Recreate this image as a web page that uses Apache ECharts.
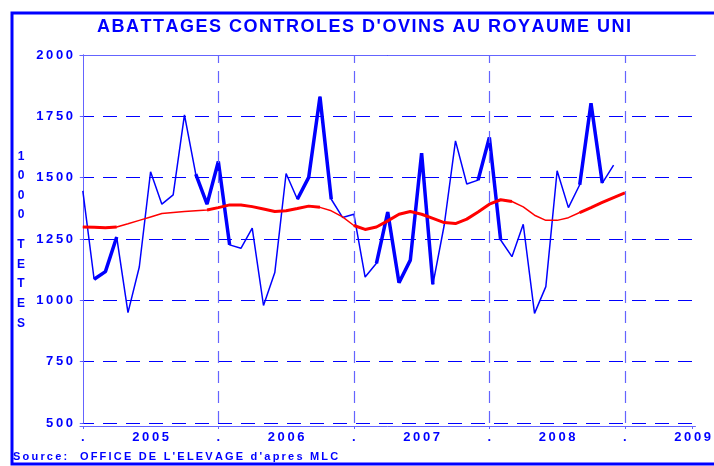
<!DOCTYPE html>
<html>
<head>
<meta charset="utf-8">
<script src="https://cdn.jsdelivr.net/npm/echarts@6/dist/echarts.min.js"></script>
<style>
  html, body { margin: 0; padding: 0; background: #fff; }
  #chart { width: 714px; height: 466px; }
</style>
</head>
<body>
<div id="chart"></div>
<script>
// abattages mensuels (1000 tetes), janv. 2005 -> dec. 2008
var abattages = [1446, 1086, 1117, 1258, 950, 1136, 1524, 1392, 1430, 1756, 1514, 1392,
  1566, 1226, 1212, 1294, 979, 1113, 1517, 1412, 1501, 1830, 1412, 1338,
  1351, 1095, 1151, 1360, 1072, 1164, 1600, 1065, 1306, 1650, 1474, 1490,
  1664, 1246, 1178, 1310, 947, 1056, 1528, 1378, 1471, 1803, 1478, 1551];
// tendance (courbe rouge), janv. 2005 -> janv. 2009
var tendance = [1299, 1298, 1296, 1299, 1312, 1326, 1340, 1354, 1358, 1362, 1365, 1368,
  1378, 1389, 1389, 1382, 1372, 1362, 1365, 1374, 1384, 1379, 1365, 1340,
  1305, 1289, 1299, 1324, 1351, 1362, 1351, 1334, 1317, 1313, 1331, 1360,
  1392, 1410, 1403, 1381, 1347, 1326, 1326, 1337, 1358, 1378, 1399, 1419,
  1438];
// segments traces en trait epais (mois de depart du segment)
var segEpaisAbattages = [1, 2, 10, 11, 12, 19, 20, 21, 26, 27, 28, 29, 30, 35, 36, 44, 45];
var segEpaisTendance = [0, 1, 2, 11, 12, 13, 14, 15, 16, 17, 18, 19, 20,
  24, 25, 26, 27, 28, 29, 30, 31, 32, 33, 34, 35, 36, 37, 44, 45, 46, 47];
// axe des mois
var moisLabels = [0, 6, 12, 18, 24, 30, 36, 42, 48, 54];
var textLabels = ['.', '2005', '.', '2006', '.', '2007', '.', '2008', '.', '2009'];
var moisTicks = [0, 12, 24, 36, 48, 54];
var debutsAnnee = [12, 24, 36, 48];

var BLEU = '#0000ff';
var BLEU_CLAIR = '#6464ff';
var FONT = '"Liberation Sans", Arial, sans-serif';

function espace(s, sep) {
  return String(s).split('').join(sep);
}
function points(vals) {
  return vals.map(function (v, i) { return [i, v]; });
}
// garde seulement les points des segments epais
function epais(vals, segs) {
  return vals.map(function (v, i) {
    var on = segs.indexOf(i) >= 0 || segs.indexOf(i - 1) >= 0;
    return [i, on ? v : '-'];
  });
}

var chart = echarts.init(document.getElementById('chart'));
chart.setOption({
  animation: false,
  backgroundColor: '#fff',
  grid: { left: 80, right: 14, top: 55, bottom: 43 },
  xAxis: [
    {
      type: 'value',
      min: -0.25,
      max: 54.25,
      offset: 3,
      axisLine: { lineStyle: { color: BLEU_CLAIR, width: 1 } },
      axisTick: { customValues: moisTicks, length: 3, lineStyle: { color: BLEU_CLAIR } },
      axisLabel: {
        customValues: moisLabels,
        margin: 5,
        color: BLEU,
        fontWeight: 'bold',
        fontSize: 13,
        fontFamily: FONT,
        formatter: function (v) {
          var k = moisLabels.indexOf(v);
          return k < 0 ? '' : espace(textLabels[k], '\u2009');
        }
      },
      splitLine: { show: false }
    },
    {
      type: 'value',
      position: 'top',
      min: -0.25,
      max: 54.25,
      axisLine: { show: true, lineStyle: { color: BLEU_CLAIR, width: 1 } },
      axisTick: { show: false },
      axisLabel: { show: false },
      splitLine: { show: false }
    }
  ],
  yAxis: [
    {
      type: 'value',
      min: 500,
      max: 2000,
      interval: 250,
      axisLine: { show: true, lineStyle: { color: BLEU_CLAIR, width: 1 } },
      axisTick: { show: true, length: 3, lineStyle: { color: BLEU_CLAIR } },
      axisLabel: {
        margin: 7,
        color: BLEU,
        fontWeight: 'bold',
        fontSize: 13,
        fontFamily: FONT,
        formatter: function (v) { return espace(v, '\u2009'); }
      },
      splitLine: { show: true, lineStyle: { color: BLEU, width: 1, type: [14, 9] } }
    },
    {
      type: 'value',
      position: 'right',
      min: 500,
      max: 2000,
      interval: 250,
      axisLine: { show: true, lineStyle: { color: BLEU_CLAIR, width: 1 } },
      axisTick: { show: false },
      axisLabel: { show: false },
      splitLine: { show: false }
    }
  ],
  series: [
    {
      name: 'abattages',
      type: 'line',
      data: points(abattages),
      symbol: 'none',
      lineStyle: { color: BLEU, width: 1.5 },
      z: 3,
      markLine: {
        silent: true,
        symbol: 'none',
        label: { show: false },
        lineStyle: { color: BLEU_CLAIR, width: 1.2, type: [12, 8] },
        data: debutsAnnee.map(function (m) { return { xAxis: m }; })
      }
    },
    {
      name: 'abattages epais',
      type: 'line',
      data: epais(abattages, segEpaisAbattages),
      symbol: 'none',
      connectNulls: false,
      lineStyle: { color: BLEU, width: 3.5 },
      z: 3
    },
    {
      name: 'tendance',
      type: 'line',
      data: points(tendance),
      symbol: 'none',
      lineStyle: { color: '#ff0000', width: 1.5 },
      z: 4
    },
    {
      name: 'tendance epais',
      type: 'line',
      data: epais(tendance, segEpaisTendance),
      symbol: 'none',
      connectNulls: false,
      lineStyle: { color: '#ff0000', width: 3 },
      z: 4
    }
  ],
  graphic: [
    {
      type: 'rect',
      shape: { x: 12, y: 13, width: 720, height: 451 },
      style: { fill: 'none', stroke: BLEU, lineWidth: 3 },
      silent: true
    },
    {
      type: 'text',
      x: 364,
      y: 27,
      style: {
        text: espace("ABATTAGES CONTROLES D'OVINS AU ROYAUME UNI", '\u200A'),
        align: 'center',
        verticalAlign: 'middle',
        font: 'bold 18px ' + FONT,
        fill: BLEU
      }
    },
    {
      type: 'text',
      x: 21,
      y: 147,
      style: {
        text: '1\n0\n0\n0',
        align: 'center',
        verticalAlign: 'top',
        lineHeight: 19.4,
        font: 'bold 12px ' + FONT,
        fill: BLEU
      }
    },
    {
      type: 'text',
      x: 21,
      y: 235,
      style: {
        text: 'T\nE\nT\nE\nS',
        align: 'center',
        verticalAlign: 'top',
        lineHeight: 19.6,
        font: 'bold 12px ' + FONT,
        fill: BLEU
      }
    },
    {
      type: 'text',
      x: 13,
      y: 457,
      style: {
        text: espace("Source:  OFFICE DE L'ELEVAGE d'apres MLC", '\u2009'),
        align: 'left',
        verticalAlign: 'middle',
        font: 'bold 11px ' + FONT,
        fill: BLEU
      }
    }
  ]
});
</script>
</body>
</html>
